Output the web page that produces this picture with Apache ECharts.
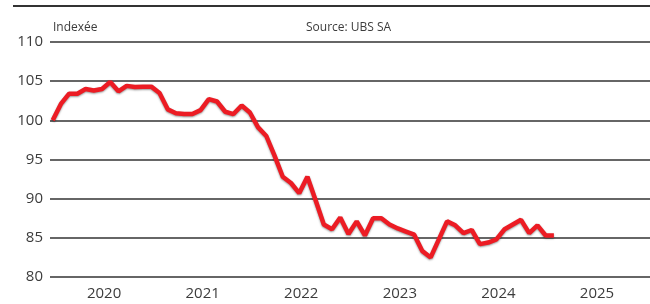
<!DOCTYPE html>
<html>
<head>
<meta charset="utf-8">
<script src="https://cdn.jsdelivr.net/npm/echarts@6/dist/echarts.min.js"></script>
<style>
  html, body { margin: 0; padding: 0; background: #fff; }
  #chart { width: 650px; height: 304px; }
</style>
</head>
<body>
<div id="chart"></div>
<script>
var chartDom = document.getElementById('chart');
var chart = echarts.init(chartDom);

// index mensuel, janv. 2020 = 100
var startYear = 2020;
var indexValues = [
    100.0, 102.1, 103.4, 103.4, 104.0, 103.8, 104.0, 104.9, 103.7, 104.4, 104.25, 104.3,
    104.3, 103.5, 101.4, 100.9, 100.8, 100.8, 101.3, 102.7, 102.4, 101.1, 100.8, 101.9,
    101.0, 99.1, 98.0, 95.5, 92.8, 92.0, 90.7, 92.8, 89.8, 86.7, 86.1, 87.6,
    85.5, 87.1, 85.3, 87.5, 87.5, 86.7, 86.2, 85.8, 85.4, 83.3, 82.5, 84.8,
    87.1, 86.6, 85.6, 86.0, 84.2, 84.4, 84.8, 86.1, 86.7, 87.3, 85.6, 86.6,
    85.3, 85.3
];
var yearLabels = ['2020', '2021', '2022', '2023', '2024', '2025'];
var yTicks = { min: 80, max: 110, interval: 5 };

var seriesData = [];
for (var i = 0; i < indexValues.length; i++) {
    seriesData.push([i, indexValues[i]]);
}
// une étiquette au milieu de chaque année
var yearPos = [];
for (var k = 0; k < yearLabels.length; k++) {
    yearPos.push(k * 12 + 6.25);
}

var textColor = '#3c3c3c';
var fontFamily = '"Open Sans", "Noto Sans", sans-serif';

var option = {
    animation: false,
    backgroundColor: '#fff',
    grid: {
        left: 50,
        right: 0,
        top: 42,
        bottom: 27
    },
    graphic: [
        {
            type: 'line',
            shape: { x1: 13, y1: 6, x2: 650, y2: 6 },
            style: { stroke: '#333', lineWidth: 2 }
        },
        {
            type: 'text',
            left: 53,
            top: 22,
            style: { text: 'Indexée', fill: textColor, fontSize: 12, fontFamily: fontFamily }
        },
        {
            type: 'text',
            left: 306,
            top: 22,
            style: { text: 'Source: UBS SA', fill: textColor, fontSize: 12, fontFamily: fontFamily }
        }
    ],
    xAxis: {
        type: 'value',
        min: -0.33,
        max: 72.7,
        axisLine: { show: false },
        axisTick: { show: false },
        splitLine: { show: false },
        axisLabel: {
            customValues: yearPos,
            formatter: function (v) {
                return yearLabels[Math.floor(v / 12)];
            },
            color: textColor,
            fontSize: 15,
            fontFamily: fontFamily,
            margin: 9
        }
    },
    yAxis: {
        type: 'value',
        min: yTicks.min,
        max: yTicks.max,
        interval: yTicks.interval,
        axisLine: { show: false },
        axisTick: { show: false },
        axisLabel: {
            color: textColor,
            fontSize: 15,
            fontFamily: fontFamily,
            margin: 7
        },
        splitLine: {
            lineStyle: { color: '#333', width: 1.5 }
        }
    },
    series: [
        {
            type: 'line',
            data: seriesData,
            showSymbol: false,
            lineStyle: {
                color: '#ec1c24',
                width: 4.5,
                shadowColor: 'rgba(0,0,0,0.4)',
                shadowBlur: 2,
                shadowOffsetY: 1
            },
            z: 5
        }
    ]
};

chart.setOption(option);
</script>
</body>
</html>
